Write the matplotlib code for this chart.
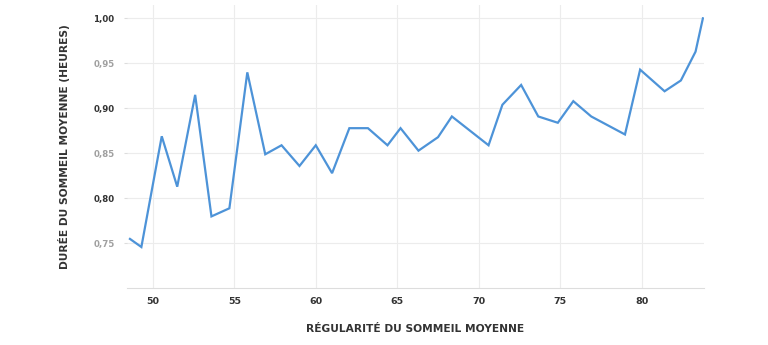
import matplotlib
matplotlib.use("Agg")
import matplotlib.pyplot as plt

# Sleep regularity (x) vs average sleep duration (y)
regularity = [48.6, 49.3, 50.55, 51.5, 52.6, 53.6, 54.7, 55.8, 56.9, 57.9,
              59.0, 60.0, 61.0, 62.06, 63.2, 64.4, 65.2, 66.3, 67.5, 68.35,
              70.6, 71.45, 72.6, 73.65, 74.85, 75.8, 76.9, 78.97, 79.9, 81.4,
              82.4, 83.3, 83.75]
duration = [0.755, 0.746, 0.869, 0.813, 0.915, 0.780, 0.789, 0.940, 0.849, 0.859,
            0.836, 0.859, 0.828, 0.878, 0.878, 0.859, 0.878, 0.853, 0.868, 0.891,
            0.859, 0.904, 0.926, 0.891, 0.884, 0.908, 0.891, 0.871, 0.943, 0.919,
            0.931, 0.963, 1.000]

x_ticks = [50, 55, 60, 65, 70, 75, 80]
y_ticks = [0.75, 0.80, 0.85, 0.90, 0.95, 1.00]

plt.rcParams['font.family'] = ['DejaVu Sans']

fig = plt.figure(figsize=(7.68, 3.45), dpi=100)
ax = fig.add_axes([0.1654, 0.164, 0.7513, 0.822])

ax.plot(regularity, duration, color="#4d93d8", linewidth=1.6, solid_joinstyle="miter")

ax.set_xlim(48.42, 83.82)
ax.set_ylim(0.70, 1.015)
ax.set_xticks(x_ticks)
ax.set_yticks(y_ticks)
ax.set_xticklabels([str(t) for t in x_ticks], fontsize=6.8, fontweight="bold", color="#333333")
ax.set_yticklabels([f"{t:.2f}".replace(".", ",") for t in y_ticks], fontsize=6.2, fontweight="bold")
for i, lab in enumerate(ax.get_yticklabels()):
    # every other label is greyed out
    lab.set_color("#333333" if i % 2 == 1 else "#a0a0a0")

ax.grid(True, color="#ececec", linewidth=0.8)
ax.set_axisbelow(True)
for side in ["top", "right", "left"]:
    ax.spines[side].set_visible(False)
ax.spines["bottom"].set_color("#dddddd")
ax.tick_params(axis="x", length=0, pad=6)
ax.tick_params(axis="y", length=2, color="#dddddd", pad=7)

ax.set_xlabel("RÉGULARITÉ DU SOMMEIL MOYENNE", fontsize=7.7, fontweight="bold",
              color="#333333", labelpad=13)
ax.set_ylabel("DURÉE DU SOMMEIL MOYENNE (HEURES)", fontsize=7.7, fontweight="bold",
              color="#333333", labelpad=17)

fig.savefig("out.png", dpi=100, facecolor="white")
